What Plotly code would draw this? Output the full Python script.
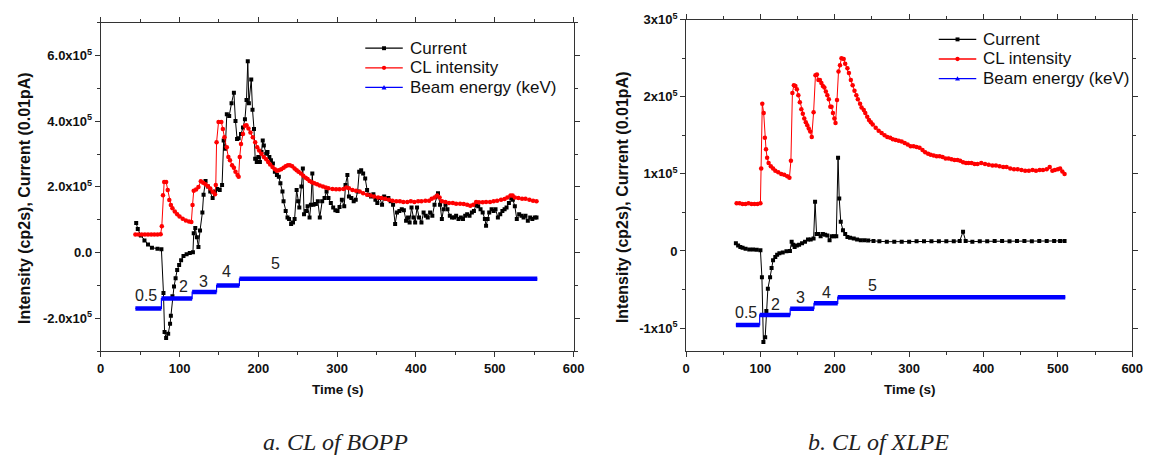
import plotly.graph_objects as go

# ---- BOPP (panel a), values in units of 1e5 ----
bopp_cur_t = [45, 47, 51, 55.5, 60, 65, 72, 77, 79.6, 81, 83, 85.6, 88, 89, 91, 93, 95, 97, 99.5, 102, 105, 109, 113, 117,
              118, 120, 122, 124, 126, 129, 130.5, 133, 136, 139, 142, 145, 148, 151, 154, 156, 158, 160, 163, 166, 169,
              171, 173, 175, 178, 180.5, 183, 185, 186.6, 188, 191, 192.6, 194.5, 196, 198, 200, 202, 204, 205.6, 207,
              210, 211.6, 214, 216, 218.5, 221, 223.6, 226, 228, 230.6, 232, 234.7, 237, 239, 241.6, 244, 246, 248.6,
              250.5, 252, 254.6, 256.5, 258, 260.6, 262.5, 265, 266.7, 268.5, 270, 273, 275.5, 278, 281, 284, 286.6,
              289, 292, 295, 297.7, 300.5, 303, 306, 309, 310.6, 313, 315, 318, 321, 323.6, 326, 328, 330.5, 333,
              335.6, 338, 340, 343, 346, 348.6, 351, 354, 357, 359.7, 362.5, 365, 368, 371, 373.6, 376, 379, 382,
              384.7, 387.5, 390, 392, 394.4, 396.8, 399, 401.4, 404, 407, 409.7, 412.5, 415, 418, 420.8, 423.6,
              426.4, 428, 430.6, 432.9, 435, 437.5, 440, 443, 445.8, 448.6, 451, 454, 457, 459.7, 462.5, 465, 468,
              471, 473.6, 476.4, 479, 482, 484.7, 487.5, 489, 491, 493, 496, 498.6, 501, 504, 507, 509.7, 512.5, 515,
              518, 521, 523, 525.5, 528, 531, 534, 536.6, 539, 542, 545, 547.7, 551, 553]
bopp_cur_v = [0.90, 0.72, 0.52, 0.37, 0.25, 0.15, 0.12, 0.10, -1.23, -2.42, -2.60, -2.47, -2.17, -1.92, -1.33, -1.03,
              -0.78, -0.53, -0.38, -0.23, -0.10, -0.05, -0.01, 0.01, 0.59, 0.75, 0.47, 0.17, 0.67, 1.22, 1.76, 2.18,
              2.01, 1.86, 1.66, 1.86, 1.94, 1.91, 2.06, 3.41, 3.16, 4.21, 4.16, 4.55, 4.87, 4.01, 3.46, 3.48, 3.61,
              3.81, 4.06, 4.65, 5.83, 4.55, 5.27, 4.35, 3.76, 2.86, 2.76, 2.91, 2.76, 3.06, 3.41, 3.26, 3.01, 3.06,
              2.91, 2.81, 2.71, 2.46, 2.36, 2.31, 2.11, 1.86, 1.56, 1.27, 1.07, 1.02, 0.87, 0.92, 1.02, 1.91, 1.56,
              1.37, 2.01, 2.56, 1.17, 1.27, 1.41, 1.07, 1.46, 2.41, 1.46, 1.48, 1.56, 1.07, 1.56, 1.66, 1.86, 1.66,
              1.51, 1.37, 1.29, 1.27, 1.39, 1.61, 1.41, 2.06, 2.36, 1.71, 1.66, 1.56, 1.61, 1.86, 2.46, 2.51, 2.41,
              2.26, 1.91, 1.76, 1.71, 1.78, 1.61, 1.51, 1.66, 1.46, 1.71, 1.64, 1.66, 1.56, 1.46, 0.87, 1.22, 1.27,
              1.32, 1.29, 0.97, 1.07, 0.92, 1.37, 1.07, 0.92, 1.37, 1.07, 0.92, 1.22, 1.12, 1.07, 1.22, 1.12, 1.46,
              1.71, 1.81, 1.46, 1.02, 1.32, 1.46, 1.32, 1.12, 1.07, 1.07, 1.12, 1.02, 1.07, 1.02, 1.12, 1.17, 1.12,
              1.22, 1.27, 1.46, 1.41, 1.32, 1.22, 1.02, 0.82, 1.02, 1.22, 1.32, 1.27, 1.32, 1.07, 1.17, 1.27, 1.32,
              1.37, 1.51, 1.66, 1.61, 1.41, 1.02, 1.17, 1.12, 1.07, 1.12, 0.97, 1.07, 1.02, 1.07, 1.07]

bopp_cl_t = [44, 48, 52, 56, 60, 64, 68, 72, 76, 77.5, 79, 80.5, 83, 85, 87, 89, 91, 94, 97, 100, 104, 108, 112, 115,
             116.5, 118, 121, 124, 127, 130, 133, 136, 139, 142, 145, 146, 147, 149.5, 153, 155, 157, 160, 162, 164,
             166.7, 169, 171, 173.6, 175, 176.4, 178, 180.5, 183, 185, 187.5, 190, 193, 196, 198.6, 201, 204, 207,
             210, 212.5, 215, 218, 221, 223.6, 226, 229, 232, 234.7, 237.5, 240, 243, 246, 248.6, 251, 254, 257, 260,
             262.5, 265, 268, 271, 274.5, 278, 282, 285.6, 289, 294, 298.6, 303, 308, 311.6, 315, 319.4, 324, 328.7,
             333, 338, 342.6, 347, 352, 356.5, 361, 365.7, 370, 375, 379.6, 384, 389, 393.5, 398, 402.8, 407, 412,
             416.7, 420, 423.6, 427, 430, 433, 437.5, 442, 446.8, 451, 456, 460.6, 465, 469, 472.7, 476.4, 480,
             484.7, 489, 494, 498.6, 503, 508, 512.5, 516, 520, 522.7, 525.5, 530, 534.7, 539, 544, 548.6, 553]
bopp_cl_v = [0.55, 0.55, 0.55, 0.55, 0.55, 0.55, 0.55, 0.55, 0.56, 0.80, 1.75, 2.15, 2.15, 1.91, 1.60, 1.45, 1.35,
             1.25, 1.17, 1.10, 1.03, 0.98, 0.95, 0.93, 1.45, 1.88, 1.92, 2.00, 2.17, 2.13, 2.08, 2.02, 1.95, 1.85,
             1.78, 2.06, 3.36, 3.98, 3.98, 3.76, 3.51, 3.21, 2.91, 2.81, 2.66, 2.58, 2.46, 2.36, 2.31, 2.91, 3.31,
             3.61, 3.86, 3.88, 3.78, 3.66, 3.51, 3.36, 3.21, 3.11, 3.01, 2.91, 2.84, 2.76, 2.68, 2.61, 2.54, 2.49,
             2.51, 2.54, 2.58, 2.63, 2.66, 2.66, 2.63, 2.56, 2.51, 2.46, 2.41, 2.34, 2.28, 2.24, 2.18, 2.14, 2.11,
             2.08, 2.04, 2.01, 1.98, 1.96, 1.94, 1.93, 1.93, 1.94, 1.98, 1.96, 1.91, 1.88, 1.86, 1.81, 1.76, 1.74,
             1.71, 1.68, 1.66, 1.64, 1.61, 1.58, 1.56, 1.56, 1.54, 1.54, 1.56, 1.54, 1.56, 1.56, 1.58, 1.58, 1.64,
             1.68, 1.74, 1.68, 1.56, 1.54, 1.51, 1.51, 1.49, 1.49, 1.48, 1.46, 1.43, 1.46, 1.54, 1.53, 1.53, 1.54,
             1.54, 1.56, 1.58, 1.61, 1.63, 1.68, 1.74, 1.74, 1.68, 1.66, 1.64, 1.64, 1.61, 1.58, 1.56]

bopp_beam_t = [44, 77, 116, 147, 176, 554]          # step edges (s)
bopp_beam_v = [-1.70, -1.40, -1.20, -1.00, -0.80]   # level of each step
bopp_kev_t = [58, 105, 131, 160, 222]
bopp_kev_v = [-1.31, -1.02, -0.87, -0.57, -0.33]

# ---- XLPE (panel b), values in units of 1e5 ----
xlpe_cur_t = [67, 70, 73, 76, 80, 85, 90, 95, 100, 102, 104, 106.4, 108, 110, 113, 115, 117, 120, 122.5, 125.5, 130,
              135, 139.7, 142, 144, 146, 149, 152, 156, 160, 164, 167.6, 171.5, 173.5, 175.5, 178, 181, 184, 187, 190,
              193, 196, 199, 202, 204.4, 206, 208, 211, 214, 217, 220.6, 225.5, 230, 235, 240, 245, 252, 260, 270,
              280, 290, 300, 310, 320, 330, 340, 350, 360, 368, 372.5, 376, 385, 395, 405, 415, 425, 435, 445, 455,
              465, 475, 485, 495, 503, 509]
xlpe_cur_v = [0.10, 0.07, 0.05, 0.04, 0.03, 0.02, 0.02, 0.015, 0.01, -0.34, -1.18, -1.12, -0.78, -0.49, -0.34, -0.22,
              -0.12, -0.08, -0.05, -0.03, -0.02, -0.005, 0.00, 0.12, 0.08, 0.05, 0.07, 0.08, 0.10, 0.12, 0.15, 0.15,
              0.16, 0.64, 0.22, 0.22, 0.19, 0.22, 0.21, 0.20, 0.14, 0.19, 0.19, 0.19, 1.21, 0.68, 0.38, 0.27, 0.22,
              0.18, 0.17, 0.16, 0.15, 0.14, 0.14, 0.135, 0.13, 0.125, 0.12, 0.12, 0.12, 0.12, 0.125, 0.125, 0.125,
              0.125, 0.125, 0.125, 0.13, 0.25, 0.13, 0.12, 0.125, 0.125, 0.13, 0.13, 0.125, 0.13, 0.13, 0.125, 0.13,
              0.13, 0.13, 0.13, 0.13]

xlpe_cl_t = [68, 72, 76, 80, 84, 88, 92, 96, 100, 101, 102.5, 104.4, 106, 107.5, 109, 111, 114, 117, 120, 124, 128,
             132, 136, 139, 141, 143, 145, 147, 149, 151, 153, 155, 157, 159, 161, 163, 165, 167, 169, 171.5, 174,
             176, 178, 180, 182, 184, 186, 188, 190, 192, 194, 195.6, 197.5, 199.5, 201, 203, 205, 207, 209, 212,
             214, 217, 219, 221.6, 224, 226.5, 229, 231, 234, 236, 239, 241, 243.6, 246, 248.5, 251, 255, 259, 263,
             267, 270.6, 274.5, 278, 282, 286, 290, 294, 298, 302, 306, 310, 314, 318, 321.6, 325.5, 329, 333, 337,
             341, 345, 349, 353, 357, 361, 365, 368.6, 372.5, 376.5, 380, 384, 388, 392, 397, 402, 407, 412, 416.7,
             421.6, 426.5, 431, 436, 441, 446, 451, 456, 461, 466, 470.6, 475.5, 480, 485, 489, 492.6, 496, 500, 503,
             506, 509]
xlpe_cl_v = [0.62, 0.62, 0.61, 0.61, 0.62, 0.61, 0.61, 0.61, 0.62, 1.07, 1.91, 1.79, 1.47, 1.32, 1.21, 1.14, 1.10,
             1.07, 1.04, 1.02, 1.00, 0.99, 0.97, 0.95, 1.17, 2.05, 2.15, 2.14, 2.10, 2.02, 1.93, 1.84, 1.78, 1.72,
             1.67, 1.63, 1.59, 1.55, 1.48, 1.80, 2.28, 2.29, 2.22, 2.22, 2.18, 2.14, 2.12, 2.07, 2.02, 1.97, 1.87,
             1.87, 1.79, 1.72, 1.66, 1.96, 2.33, 2.41, 2.50, 2.49, 2.43, 2.37, 2.31, 2.22, 2.15, 2.08, 2.02, 1.97,
             1.91, 1.86, 1.83, 1.79, 1.74, 1.70, 1.67, 1.64, 1.60, 1.56, 1.53, 1.50, 1.48, 1.47, 1.45, 1.44, 1.43,
             1.42, 1.40, 1.38, 1.36, 1.36, 1.35, 1.34, 1.31, 1.28, 1.26, 1.25, 1.24, 1.23, 1.23, 1.22, 1.20, 1.20,
             1.19, 1.18, 1.18, 1.17, 1.15, 1.14, 1.14, 1.14, 1.13, 1.13, 1.14, 1.13, 1.12, 1.11, 1.11, 1.10, 1.09,
             1.09, 1.07, 1.06, 1.06, 1.05, 1.04, 1.04, 1.05, 1.04, 1.05, 1.05, 1.06, 1.09, 1.04, 1.05, 1.06, 1.07,
             1.03, 1.00]

xlpe_beam_t = [67, 99, 140, 172, 204, 510]
xlpe_beam_v = [-0.96, -0.83, -0.75, -0.68, -0.60]
xlpe_kev_t = [80, 120, 154, 189, 251]
xlpe_kev_v = [-0.80, -0.69, -0.61, -0.54, -0.45]

kev_labels = ["0.5", "2", "3", "4", "5"]
series_names = ["Current", "CL intensity", "Beam energy (keV)"]

BLACK, RED, BLUE = "#000000", "#ff0000", "#0000ff"
AX = "Liberation Sans"
W, H = 1160, 457


def px(x):
    return x / W


def py(y):
    return 1 - y / H


def add_panel(fig, xref, yref, cur_t, cur_v, cl_t, cl_v, beam_t, beam_v, kev_t, kev_v):
    fig.add_trace(go.Scatter(x=cur_t, y=cur_v, mode="lines+markers", name="Current",
                             line=dict(color=BLACK, width=1), marker=dict(symbol="square", size=4, color=BLACK),
                             xaxis=xref, yaxis=yref))
    fig.add_trace(go.Scatter(x=cl_t, y=cl_v, mode="lines+markers", name="CL intensity",
                             line=dict(color=RED, width=1), marker=dict(symbol="circle", size=4.5, color=RED),
                             xaxis=xref, yaxis=yref))
    # thick step bands (each level drawn as its own segment)
    seg_x, seg_y = [], []
    for i, lv in enumerate(beam_v):
        seg_x += [beam_t[i], beam_t[i + 1], None]
        seg_y += [lv, lv, None]
    fig.add_trace(go.Scatter(x=seg_x, y=seg_y, mode="lines", line=dict(color=BLUE, width=4.5),
                             xaxis=xref, yaxis=yref, hoverinfo="skip"))
    # thin risers between levels
    fig.add_trace(go.Scatter(x=beam_t, y=beam_v + [beam_v[-1]], mode="lines", name="Beam energy (keV)",
                             line=dict(color=BLUE, width=1.2, shape="hv"), xaxis=xref, yaxis=yref))
    for t, v, s in zip(kev_t, kev_v, kev_labels):
        fig.add_annotation(x=t, y=v, xref=xref, yref=yref, text=s, showarrow=False, xanchor="center",
                           font=dict(family=AX, size=16, color="#222222"))


def add_legend(fig, x0, y0):
    # hand-drawn legend: line sample, marker in the middle, label
    colors = [BLACK, RED, BLUE]
    for i, (name, c) in enumerate(zip(series_names, colors)):
        y = y0 + 20 * i
        fig.add_shape(type="line", xref="paper", yref="paper", x0=px(x0), x1=px(x0 + 38), y0=py(y), y1=py(y),
                      line=dict(color=c, width=1.3))
        mx = x0 + 19
        if i == 0:
            fig.add_shape(type="rect", xref="paper", yref="paper", x0=px(mx - 2), x1=px(mx + 2),
                          y0=py(y + 2), y1=py(y - 2), fillcolor=c, line=dict(width=0))
        elif i == 1:
            fig.add_shape(type="circle", xref="paper", yref="paper", x0=px(mx - 2.2), x1=px(mx + 2.2),
                          y0=py(y + 2.2), y1=py(y - 2.2), fillcolor=c, line=dict(width=0))
        else:
            fig.add_shape(type="path", xref="paper", yref="paper",
                          path="M %f %f L %f %f L %f %f Z" % (px(mx - 2.5), py(y + 2), px(mx + 2.5), py(y + 2),
                                                               px(mx), py(y - 2.5)),
                          fillcolor=c, line=dict(width=0))
        fig.add_annotation(x=px(x0 + 43), y=py(y), xref="paper", yref="paper", text=name, showarrow=False,
                           xanchor="left", yanchor="middle", font=dict(family=AX, size=17, color="#111111"))


fig = go.Figure()
add_panel(fig, "x", "y", bopp_cur_t, bopp_cur_v, bopp_cl_t, bopp_cl_v,
          bopp_beam_t, bopp_beam_v, bopp_kev_t, bopp_kev_v)
add_panel(fig, "x2", "y2", xlpe_cur_t, xlpe_cur_v, xlpe_cl_t, xlpe_cl_v,
          xlpe_beam_t, xlpe_beam_v, xlpe_kev_t, xlpe_kev_v)
add_legend(fig, 366, 40)
add_legend(fig, 947, 31)

tickfont = dict(family=AX, size=13, color="#111111")
axis_common = dict(showgrid=False, zeroline=False, showline=True, linecolor="#333333", linewidth=1,
                   mirror="ticks", ticks="outside", ticklen=5, tickcolor="#333333", tickfont=tickfont)
xcommon = dict(axis_common, range=[0, 600], tickvals=[0, 100, 200, 300, 400, 500, 600],
               ticktext=["<b>%d</b>" % v for v in [0, 100, 200, 300, 400, 500, 600]],
               minor=dict(dtick=50, ticks="outside", ticklen=3, tickcolor="#333333"))

fig.update_layout(
    width=W, height=H, margin=dict(l=0, r=0, t=0, b=0),
    paper_bgcolor="white", plot_bgcolor="white", showlegend=False,
    xaxis=dict(xcommon, domain=[px(98), px(577)], anchor="y"),
    yaxis=dict(axis_common, domain=[py(349), py(14)], anchor="x", range=[-3, 7],
               tickvals=[-2, 0, 2, 4, 6],
               ticktext=["<b>-2.0x10<sup>5</sup></b>", "<b>0.0</b>", "<b>2.0x10<sup>5</sup></b>",
                         "<b>4.0x10<sup>5</sup></b>", "<b>6.0x10<sup>5</sup></b>"],
               minor=dict(dtick=1, ticks="outside", ticklen=3, tickcolor="#333333")),
    xaxis2=dict(xcommon, domain=[px(691), px(1143)], anchor="y2"),
    yaxis2=dict(axis_common, domain=[py(349), py(11)], anchor="x2", range=[-1.3, 3],
                tickvals=[-1, 0, 1, 2, 3],
                ticktext=["<b>-1x10<sup>5</sup></b>", "<b>0</b>", "<b>1x10<sup>5</sup></b>",
                          "<b>2x10<sup>5</sup></b>", "<b>3x10<sup>5</sup></b>"],
                minor=dict(dtick=0.5, ticks="outside", ticklen=3, tickcolor="#333333")),
)

# axis titles and captions
ytitle = "<b>Intensity (cp2s), Current (0.01pA)</b>"
for cx, cy in [(20, 193), (626, 192)]:
    fig.add_annotation(x=px(cx), y=py(cy), xref="paper", yref="paper", text=ytitle, textangle=-90,
                       showarrow=False, xanchor="center", yanchor="middle",
                       font=dict(family=AX, size=16, color="#111111"))
for cx in [338, 918]:
    fig.add_annotation(x=px(cx), y=py(388), xref="paper", yref="paper", text="<b>Time (s)</b>",
                       showarrow=False, xanchor="center", yanchor="middle",
                       font=dict(family=AX, size=13.5, color="#111111"))
for cx, cap in [(336, "a. CL of BOPP"), (886, "b. CL of XLPE")]:
    fig.add_annotation(x=px(cx), y=py(442), xref="paper", yref="paper", text="<i>%s</i>" % cap,
                       showarrow=False, xanchor="center", yanchor="middle",
                       font=dict(family="Liberation Serif", size=24, color="#222222"))

fig.write_html("out.html", config={"displayModeBar": False},
               post_script="document.body.style.margin='0px';")
